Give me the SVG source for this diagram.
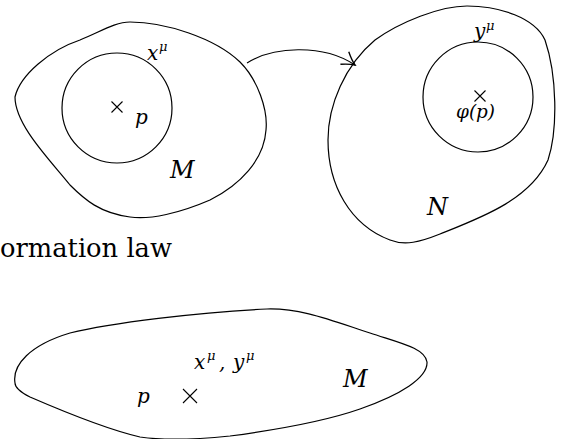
<svg xmlns="http://www.w3.org/2000/svg" width="561" height="439" viewBox="0 0 561 439">
<style>
.b{fill:none;stroke:#000;stroke-width:1.2}
.c{fill:none;stroke:#000;stroke-width:1.1}
.m{font-family:'DejaVu Serif','Liberation Serif',serif;font-style:italic;fill:#000}
.r{font-family:'DejaVu Serif','Liberation Serif',serif;fill:#000}
</style>
<defs>
<marker id="arr" markerUnits="userSpaceOnUse" markerWidth="20" markerHeight="20" refX="0" refY="0" viewBox="-12 -8 14 16" orient="auto">
<path d="M-10,-6 Q-4,-1.5 0,0 Q-4,1.5 -10,6" fill="none" stroke="#000" stroke-width="1.1"/>
</marker>
</defs>
<rect width="561" height="439" fill="#fff"/>
<g id="manifoldM">
<path class="b" d="M15,97 C20,75 50,50 80,40 C100,32 115,22 130,22 C165,22 215,38 240,62 C258,80 268,110 266,130 C264,160 240,185 210,200 C180,213 150,220 130,217 C100,213 85,200 70,185 C50,160 15,125 15,97 Z"/>
<circle class="b" cx="117" cy="108" r="55"/>
<path class="c" d="M111.5,101.5 L122.5,112.5 M122.5,101.5 L111.5,112.5"/>
<text class="m" x="147" y="60" font-size="20">x</text>
<text class="m" x="159" y="51" font-size="13">μ</text>
<text class="m" x="135" y="124" font-size="20">p</text>
<text class="m" x="170" y="178" font-size="24">M</text>
</g>
<g id="manifoldN">
<path class="b" d="M467,6 C440,6 400,22 375,40 C345,65 328,105 328,140 C328,185 350,225 390,240 C405,246 420,242 440,234 C480,218 530,200 548,160 C558,130 557,75 545,40 C535,18 500,6 467,6 Z"/>
<circle class="b" cx="478" cy="97" r="55"/>
<path class="c" d="M474.5,90.5 L485.5,101.5 M485.5,90.5 L474.5,101.5"/>
<text class="m" x="474" y="38" font-size="20">y</text>
<text class="m" x="486" y="30" font-size="13">μ</text>
<text class="m" x="456" y="118" font-size="19" textLength="39" lengthAdjust="spacingAndGlyphs">φ(p)</text>
<text class="m" x="427" y="215" font-size="24">N</text>
</g>
<g id="connectors">
<path class="c" d="M247,63 C272,47 322,43 355,65" marker-end="url(#arr)"/>
</g>
<g id="caption">
<text class="r" x="0" y="257" font-size="26" textLength="172" lengthAdjust="spacingAndGlyphs">ormation law</text>
</g>
<g id="manifoldBottom">
<path class="b" d="M15,383 C12,365 30,345 70,333 C110,323 200,312 267,309 C300,308 330,320 370,333 C400,343 425,348 427,362 C428,378 400,395 360,409 C320,423 260,432 230,436 C190,440 160,440 140,437 C110,430 60,410 30,397 C20,392 15,388 15,383 Z"/>
<path class="c" d="M183,389 L197,403 M197,389 L183,403"/>
<text class="m" x="137" y="403" font-size="20">p</text>
<text class="m" x="194" y="369" font-size="20">x</text>
<text class="m" x="207" y="360" font-size="13">μ</text>
<text class="m" x="219" y="369" font-size="20">,</text>
<text class="m" x="233" y="369" font-size="20">y</text>
<text class="m" x="246" y="360" font-size="13">μ</text>
<text class="m" x="343" y="387" font-size="24">M</text>
</g>
</svg>
